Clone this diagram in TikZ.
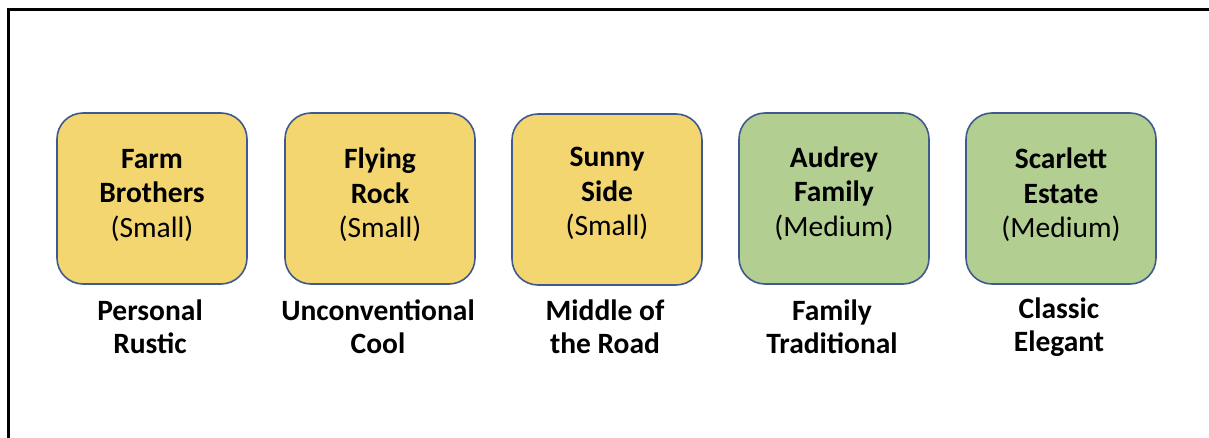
\documentclass[tikz,border=0pt]{standalone}
\usepackage{fontspec}
\setmainfont{Carlito}
\definecolor{smallfill}{HTML}{F3D670}
\definecolor{medfill}{HTML}{B3CE91}
\definecolor{boxline}{HTML}{3F5A8E}
\tikzset{
  winery/.style={draw=boxline, line width=1.6pt, rounded corners=26pt,
    minimum width=190pt, minimum height=171pt, inner sep=0pt},
  smallw/.style={winery, fill=smallfill},
  medw/.style={winery, fill=medfill},
  box text/.style={align=center, inner sep=0pt, font=\fontsize{29.5}{34.5}\selectfont},
  style label/.style={align=center, font=\fontsize{29.5}{33}\selectfont\bfseries, inner sep=0pt}
}
\begin{document}
\begin{tikzpicture}[x=1pt,y=-1pt]
  \useasboundingbox (0,0) rectangle (1209,438);
  % frame
  \draw[line width=3pt] (8.5,438) -- (8.5,9.5) -- (1209,9.5);
  % winery boxes
  \node[smallw] (farm)     at (152,198.5) {};
  \node[smallw] (flying)   at (380,198.5) {};
  \node[smallw] (sunny)    at (607,199.5) {};
  \node[medw]   (audrey)   at (834,198.5) {};
  \node[medw]   (scarlett) at (1061,198.5) {};
  % winery names and sizes
  \node[box text, yshift=3.5pt] (farm t)     at (farm.center)     {\textbf{Farm}\\\textbf{Brothers}\\(Small)};
  \node[box text, yshift=3.5pt] (flying t)   at (flying.center)   {\textbf{Flying}\\\textbf{Rock}\\(Small)};
  \node[box text, yshift=6pt]   (sunny t)    at (sunny.center)    {\textbf{Sunny}\\\textbf{Side}\\(Small)};
  \node[box text, yshift=5pt]   (audrey t)   at (audrey.center)   {\textbf{Audrey}\\\textbf{Family}\\(Medium)};
  \node[box text, yshift=3.5pt] (scarlett t) at (scarlett.center) {\textbf{Scarlett}\\\textbf{Estate}\\(Medium)};
  % style labels
  \node[style label, anchor=north] (l1) at (150,300) {Personal\\Rustic};
  \node[style label, anchor=north] (l2) at (378,300) {Unconventional\\Cool};
  \node[style label, anchor=north] (l3) at (605,300) {Middle of\\the Road};
  \node[style label, anchor=north] (l4) at (832,300) {Family\\Traditional};
  \node[style label, anchor=north] (l5) at (1059,298) {Classic\\Elegant};
\end{tikzpicture}
\end{document}
